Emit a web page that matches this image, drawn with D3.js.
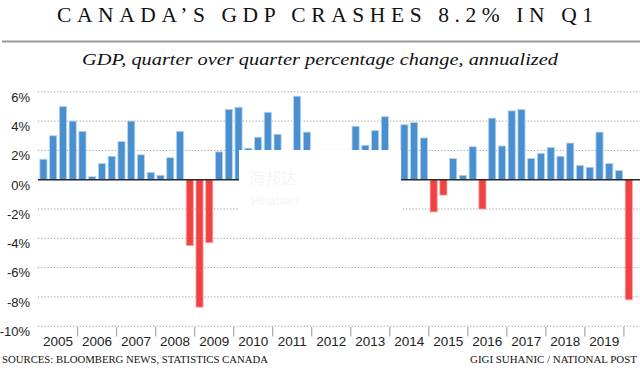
<!DOCTYPE html>
<html>
<head>
<meta charset="utf-8">
<script src="https://cdn.jsdelivr.net/npm/d3@7"></script>
<style>
  html, body { margin: 0; padding: 0; background: #fff; }
  svg { display: block; }
</style>
</head>
<body>
<div id="chart"></div>
<script>
// ---- data ----
const years = [2005, 2006, 2007, 2008, 2009, 2010, 2011, 2012, 2013, 2014, 2015, 2016, 2017, 2018, 2019, 2020];
const quarterNames = ["Q1", "Q2", "Q3", "Q4"];
const gdpChange = [
  1.4, 3.0, 5.0, 4.0,     // 2005
  3.3, 0.2, 1.1, 1.6,     // 2006
  2.6, 4.0, 1.7, 0.5,     // 2007
  0.3, 1.5, 3.3, -4.5,    // 2008
  -8.7, -4.3, 1.9, 4.8,   // 2009
  4.95, 2.15, 2.9, 4.6,   // 2010
  3.1, 1.0, 5.7, 3.25,    // 2011
  1.2, 1.0, 0.6, 0.8,     // 2012
  3.65, 2.35, 3.35, 4.3,  // 2013
  1.0, 3.75, 3.9, 2.85,   // 2014
  -2.2, -1.05, 1.45, 0.3, // 2015
  2.25, -2.0, 4.2, 2.3,   // 2016
  4.7, 4.8, 1.45, 1.8,    // 2017
  2.2, 1.6, 2.5, 0.98,    // 2018
  0.85, 3.25, 1.1, 0.62,  // 2019
  -8.2                    // 2020
];
const yTicks = [-10, -8, -6, -4, -2, 0, 2, 4, 6];
const labelledYears = [2005, 2006, 2007, 2008, 2009, 2010, 2011, 2012, 2013, 2014, 2015, 2016, 2017, 2018, 2019];

const titleText = "CANADA\u2019S GDP CRASHES 8.2% IN Q1";
const subtitleText = "GDP, quarter over quarter percentage change, annualized";
const sourceText = "SOURCES: BLOOMBERG NEWS, STATISTICS CANADA";
const creditText = "GIGI SUHANIC / NATIONAL POST";

const categories = years.flatMap(y => quarterNames.map(q => y + " " + q)).slice(0, gdpChange.length);
const data = categories.map((c, i) => ({ cat: c, year: +c.slice(0, 4), value: gdpChange[i] }));

// ---- layout ----
const W = 640, H = 371;
const svg = d3.select("#chart").append("svg").attr("width", W).attr("height", H);

const y = d3.scaleLinear().domain([-10, 6]).range([326.2, 91.8]);
const x = d3.scaleBand().domain(categories).range([38.6, 633.6]).paddingInner(0.27).paddingOuter(0.13);

// title
svg.append("text")
  .attr("x", 57).attr("y", 22)
  .attr("textLength", 536).attr("lengthAdjust", "spacing")
  .style("font-family", "'Liberation Serif', 'DejaVu Serif', serif")
  .style("font-size", "21.5px").style("fill", "#111")
  .text(titleText);

svg.append("line")
  .attr("x1", 2).attr("x2", 640).attr("y1", 41.5).attr("y2", 41.5)
  .attr("stroke", "#9a9a9a").attr("stroke-width", 2.2);

svg.append("text")
  .attr("x", 82).attr("y", 65)
  .attr("textLength", 476).attr("lengthAdjust", "spacingAndGlyphs")
  .style("font-family", "'Liberation Serif', 'DejaVu Serif', serif")
  .style("font-style", "italic")
  .style("font-size", "17px").style("fill", "#111")
  .text(subtitleText);

// gridlines
svg.append("g").selectAll("line")
  .data(yTicks.filter(t => t !== 0))
  .join("line")
  .attr("x1", 38).attr("x2", 640)
  .attr("y1", d => y(d)).attr("y2", d => y(d))
  .attr("stroke", "#9c9c9c").attr("stroke-width", 1)
  .attr("stroke-dasharray", "1.2,2");

// y axis labels
const yAxis = svg.append("g").attr("transform", "translate(30,0)")
  .call(d3.axisLeft(y).tickValues(yTicks).tickSize(0).tickPadding(0).tickFormat(d => d + "%"));
yAxis.select(".domain").remove();
yAxis.selectAll("text")
  .attr("dy", "0.72em")
  .style("font-family", "'Liberation Sans', Arial, sans-serif")
  .style("font-size", "13px").style("fill", "#222");

// bars
svg.append("g").selectAll("rect")
  .data(data)
  .join("rect")
  .attr("x", d => x(d.cat))
  .attr("width", x.bandwidth())
  .attr("y", d => y(Math.max(0, d.value)))
  .attr("height", d => Math.abs(y(d.value) - y(0)))
  .attr("fill", d => d.value >= 0 ? "#4a8fcf" : "#ef4242")
  .attr("stroke", d => d.value >= 0 ? "#b7d4ee" : "#f6a9a9")
  .attr("stroke-width", 0.8);

// zero line
svg.append("line")
  .attr("x1", 38).attr("x2", 640).attr("y1", y(0)).attr("y2", y(0))
  .attr("stroke", "#2b2b2b").attr("stroke-width", 1.5);

// year separators & labels
const step = x.step();
const gap = step * x.paddingInner() / 2;
svg.append("g").selectAll("line")
  .data(years.slice(1))
  .join("line")
  .attr("x1", d => x(d + " Q1") - gap).attr("x2", d => x(d + " Q1") - gap)
  .attr("y1", 327).attr("y2", 336.5)
  .attr("stroke", "#a8a8a8").attr("stroke-width", 1.2);

svg.append("g").selectAll("text")
  .data(labelledYears)
  .join("text")
  .attr("x", d => (x(d + " Q1") + x(d + " Q4") + x.bandwidth()) / 2)
  .attr("y", 345.8)
  .attr("text-anchor", "middle")
  .style("font-family", "'Liberation Sans', Arial, sans-serif")
  .style("font-size", "13.5px").style("fill", "#222")
  .text(d => d);

// overlay block present in the source image (with its faint watermark)
svg.append("rect")
  .attr("x", 239).attr("y", 150).attr("width", 162).attr("height", 73)
  .attr("fill", "#fff");
svg.append("text")
  .attr("x", 249).attr("y", 184)
  .style("font-family", "'Noto Sans CJK SC', sans-serif")
  .style("font-size", "16px").style("fill", "#f5f5f5")
  .text("海邦达");
svg.append("text")
  .attr("x", 251).attr("y", 205)
  .style("font-family", "'Liberation Sans', sans-serif")
  .style("font-size", "12px").style("fill", "#f5f5f5")
  .text("Hinabian");

// footer
svg.append("text")
  .attr("x", 2).attr("y", 363)
  .attr("textLength", 266).attr("lengthAdjust", "spacingAndGlyphs")
  .style("font-family", "'Liberation Serif', 'DejaVu Serif', serif")
  .style("font-size", "11.2px").style("fill", "#111")
  .text(sourceText);
svg.append("text")
  .attr("x", 637).attr("y", 363)
  .attr("text-anchor", "end")
  .attr("textLength", 167).attr("lengthAdjust", "spacingAndGlyphs")
  .style("font-family", "'Liberation Serif', 'DejaVu Serif', serif")
  .style("font-size", "10.6px").style("fill", "#111")
  .text(creditText);
</script>
</body>
</html>
